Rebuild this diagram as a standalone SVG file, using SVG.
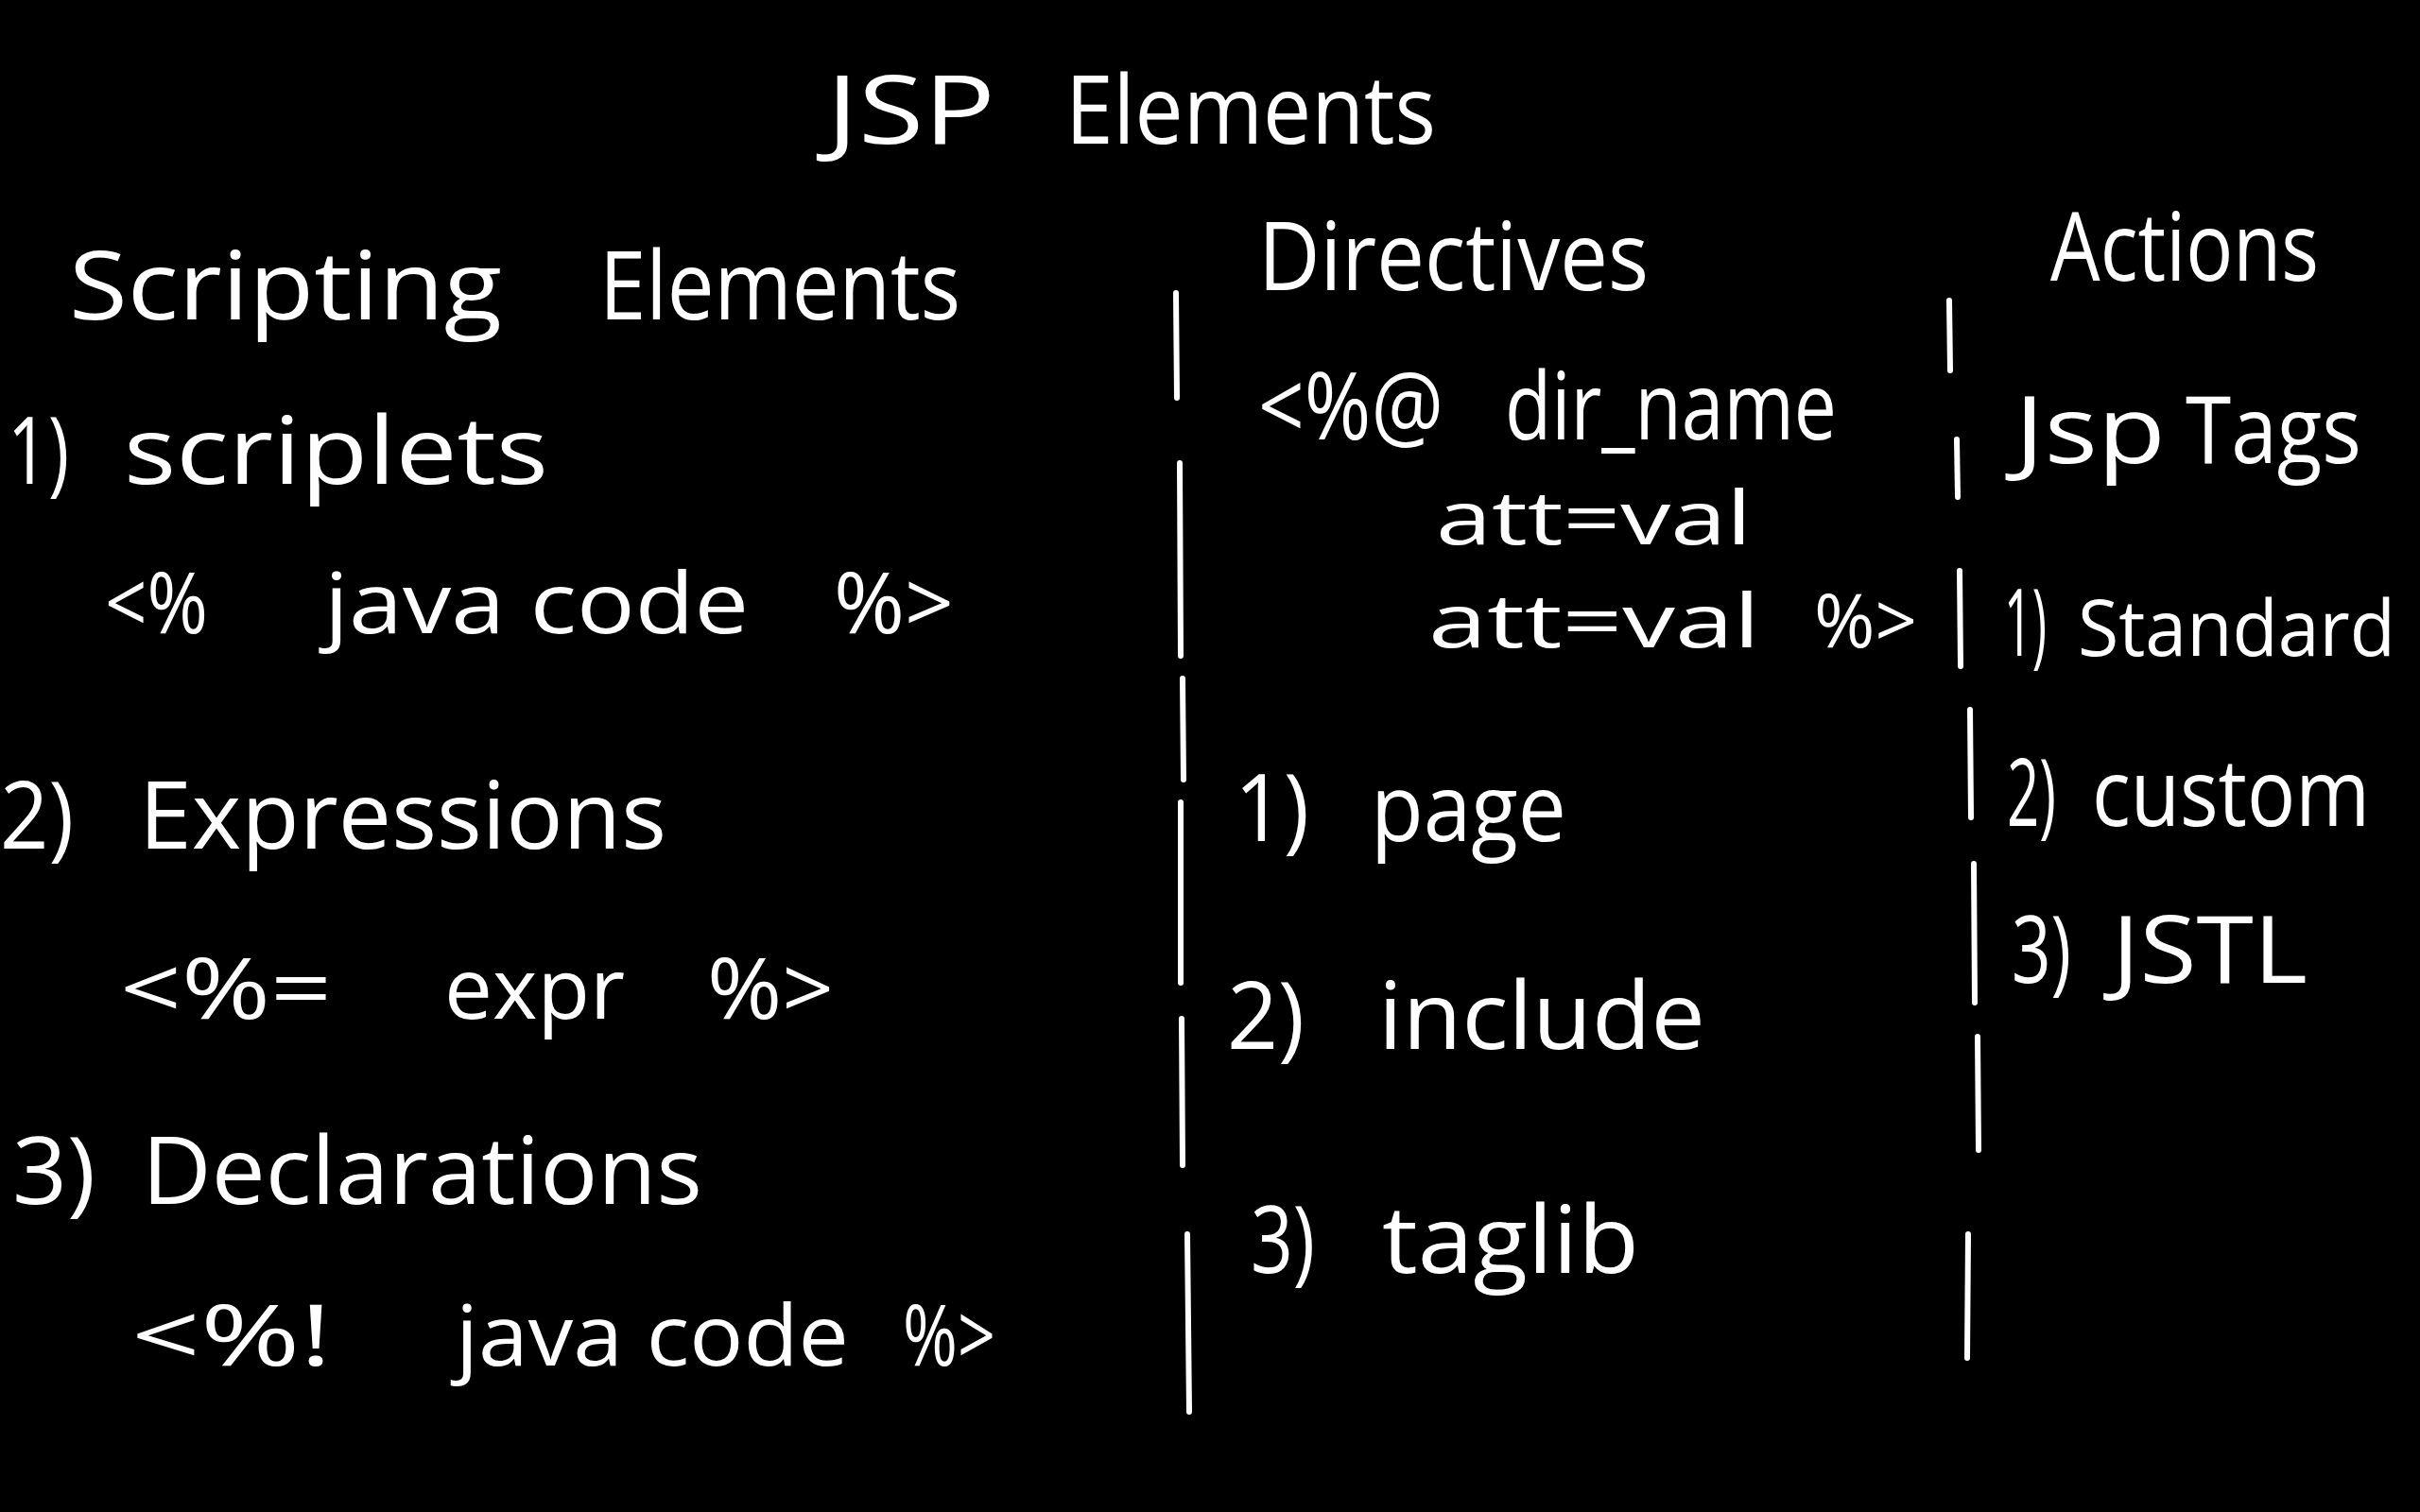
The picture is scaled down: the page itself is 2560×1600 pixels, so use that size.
<svg xmlns="http://www.w3.org/2000/svg" width="2560" height="1600" viewBox="0 0 2560 1600">
<style>
text{fill:#fff;font-family:"Open Sans","Noto Sans","Liberation Sans",sans-serif;font-weight:400}
.h{font-size:100px}
.i{font-size:98px}
.c{font-size:90px}
.a{font-size:78px}
.s{font-size:82px}
.sep{stroke:#fff;stroke-width:6;stroke-linecap:round;fill:none}
</style>
<rect width="2560" height="1600" fill="#000"/>
<g id="title">
<text class="h" x="874" y="152" textLength="179" lengthAdjust="spacingAndGlyphs">JSP</text>
<text class="h" x="1127" y="152" textLength="392" lengthAdjust="spacingAndGlyphs">Elements</text>
</g>
<g id="scripting-elements">
<text class="h" x="73" y="338" textLength="458" lengthAdjust="spacingAndGlyphs">Scripting</text>
<text class="h" x="634" y="338" textLength="382" lengthAdjust="spacingAndGlyphs">Elements</text>
</g>
<g id="scriplets">
<text class="i" x="8" y="512" textLength="65" lengthAdjust="spacingAndGlyphs">1)</text>
<text class="i" x="131" y="512" textLength="449" lengthAdjust="spacingAndGlyphs">scriplets</text>
<text class="c" x="111" y="670" textLength="109" lengthAdjust="spacingAndGlyphs">&lt;%</text>
<text class="c" x="343" y="670" textLength="449" lengthAdjust="spacingAndGlyphs">java code</text>
<text class="c" x="882" y="670" textLength="127" lengthAdjust="spacingAndGlyphs">%&gt;</text>
</g>
<g id="expressions">
<text class="i" x="0" y="898" textLength="78" lengthAdjust="spacingAndGlyphs">2)</text>
<text class="i" x="147" y="898" textLength="558" lengthAdjust="spacingAndGlyphs">Expressions</text>
<text class="c" x="127" y="1078" textLength="224" lengthAdjust="spacingAndGlyphs">&lt;%=</text>
<text class="c" x="470" y="1078" textLength="191" lengthAdjust="spacingAndGlyphs">expr</text>
<text class="c" x="748" y="1078" textLength="134" lengthAdjust="spacingAndGlyphs">%&gt;</text>
</g>
<g id="declarations">
<text class="i" x="13" y="1274" textLength="88" lengthAdjust="spacingAndGlyphs">3)</text>
<text class="i" x="150" y="1274" textLength="593" lengthAdjust="spacingAndGlyphs">Declarations</text>
<text class="c" x="139" y="1445" textLength="212" lengthAdjust="spacingAndGlyphs">&lt;%!</text>
<text class="c" x="482" y="1445" textLength="416" lengthAdjust="spacingAndGlyphs">java code</text>
<text class="c" x="955" y="1445" textLength="98" lengthAdjust="spacingAndGlyphs">%&gt;</text>
</g>
<g id="directives">
<text class="h" x="1331" y="307" textLength="413" lengthAdjust="spacingAndGlyphs">Directives</text>
<text class="i" x="1331" y="465" textLength="196" lengthAdjust="spacingAndGlyphs">&lt;%@</text>
<text class="i" x="1592" y="465" textLength="351" lengthAdjust="spacingAndGlyphs">dir_name</text>
<text class="a" x="1519" y="576" textLength="334" lengthAdjust="spacingAndGlyphs">att=val</text>
<text class="a" x="1511" y="685" textLength="351" lengthAdjust="spacingAndGlyphs">att=val</text>
<text class="a" x="1919" y="685" textLength="109" lengthAdjust="spacingAndGlyphs">%&gt;</text>
</g>
<g id="page">
<text class="i" x="1306" y="890" textLength="79" lengthAdjust="spacingAndGlyphs">1)</text>
<text class="i" x="1450" y="890" textLength="207" lengthAdjust="spacingAndGlyphs">page</text>
</g>
<g id="include">
<text class="i" x="1298" y="1110" textLength="82" lengthAdjust="spacingAndGlyphs">2)</text>
<text class="i" x="1458" y="1110" textLength="346" lengthAdjust="spacingAndGlyphs">include</text>
</g>
<g id="taglib">
<text class="i" x="1323" y="1347" textLength="68" lengthAdjust="spacingAndGlyphs">3)</text>
<text class="i" x="1462" y="1347" textLength="272" lengthAdjust="spacingAndGlyphs">taglib</text>
</g>
<g id="actions">
<text class="h" x="2169" y="297" textLength="284" lengthAdjust="spacingAndGlyphs">Actions</text>
</g>
<g id="jsp-tags">
<text class="i" x="2131" y="490" textLength="160" lengthAdjust="spacingAndGlyphs">Jsp</text>
<text class="i" x="2312" y="490" textLength="186" lengthAdjust="spacingAndGlyphs">Tags</text>
</g>
<g id="standard">
<text class="i" x="2120" y="694" textLength="45" lengthAdjust="spacingAndGlyphs">1)</text>
<text class="s" x="2198" y="694" textLength="336" lengthAdjust="spacingAndGlyphs">Standard</text>
</g>
<g id="custom">
<text class="i" x="2123" y="874" textLength="52" lengthAdjust="spacingAndGlyphs">2)</text>
<text class="i" x="2213" y="874" textLength="294" lengthAdjust="spacingAndGlyphs">custom</text>
</g>
<g id="jstl">
<text class="i" x="2128" y="1040" textLength="63" lengthAdjust="spacingAndGlyphs">3)</text>
<text class="i" x="2234" y="1040" textLength="207" lengthAdjust="spacingAndGlyphs">JSTL</text>
</g>
<g id="connectors">
<line class="sep" x1="1244" y1="310" x2="1245" y2="421"/>
<line class="sep" x1="1248" y1="490" x2="1249" y2="694"/>
<line class="sep" x1="1251" y1="718" x2="1252" y2="825"/>
<line class="sep" x1="1249" y1="849" x2="1249" y2="1040"/>
<line class="sep" x1="1250" y1="1078" x2="1251" y2="1233"/>
<line class="sep" x1="1256" y1="1306" x2="1258" y2="1494"/>
<line class="sep" x1="2062" y1="318" x2="2063" y2="392"/>
<line class="sep" x1="2070" y1="465" x2="2071" y2="526"/>
<line class="sep" x1="2073" y1="604" x2="2074" y2="705"/>
<line class="sep" x1="2084" y1="751" x2="2085" y2="865"/>
<line class="sep" x1="2088" y1="914" x2="2089" y2="1061"/>
<line class="sep" x1="2092" y1="1097" x2="2093" y2="1217"/>
<line class="sep" x1="2082" y1="1306" x2="2081" y2="1437"/>
</g>
</svg>
